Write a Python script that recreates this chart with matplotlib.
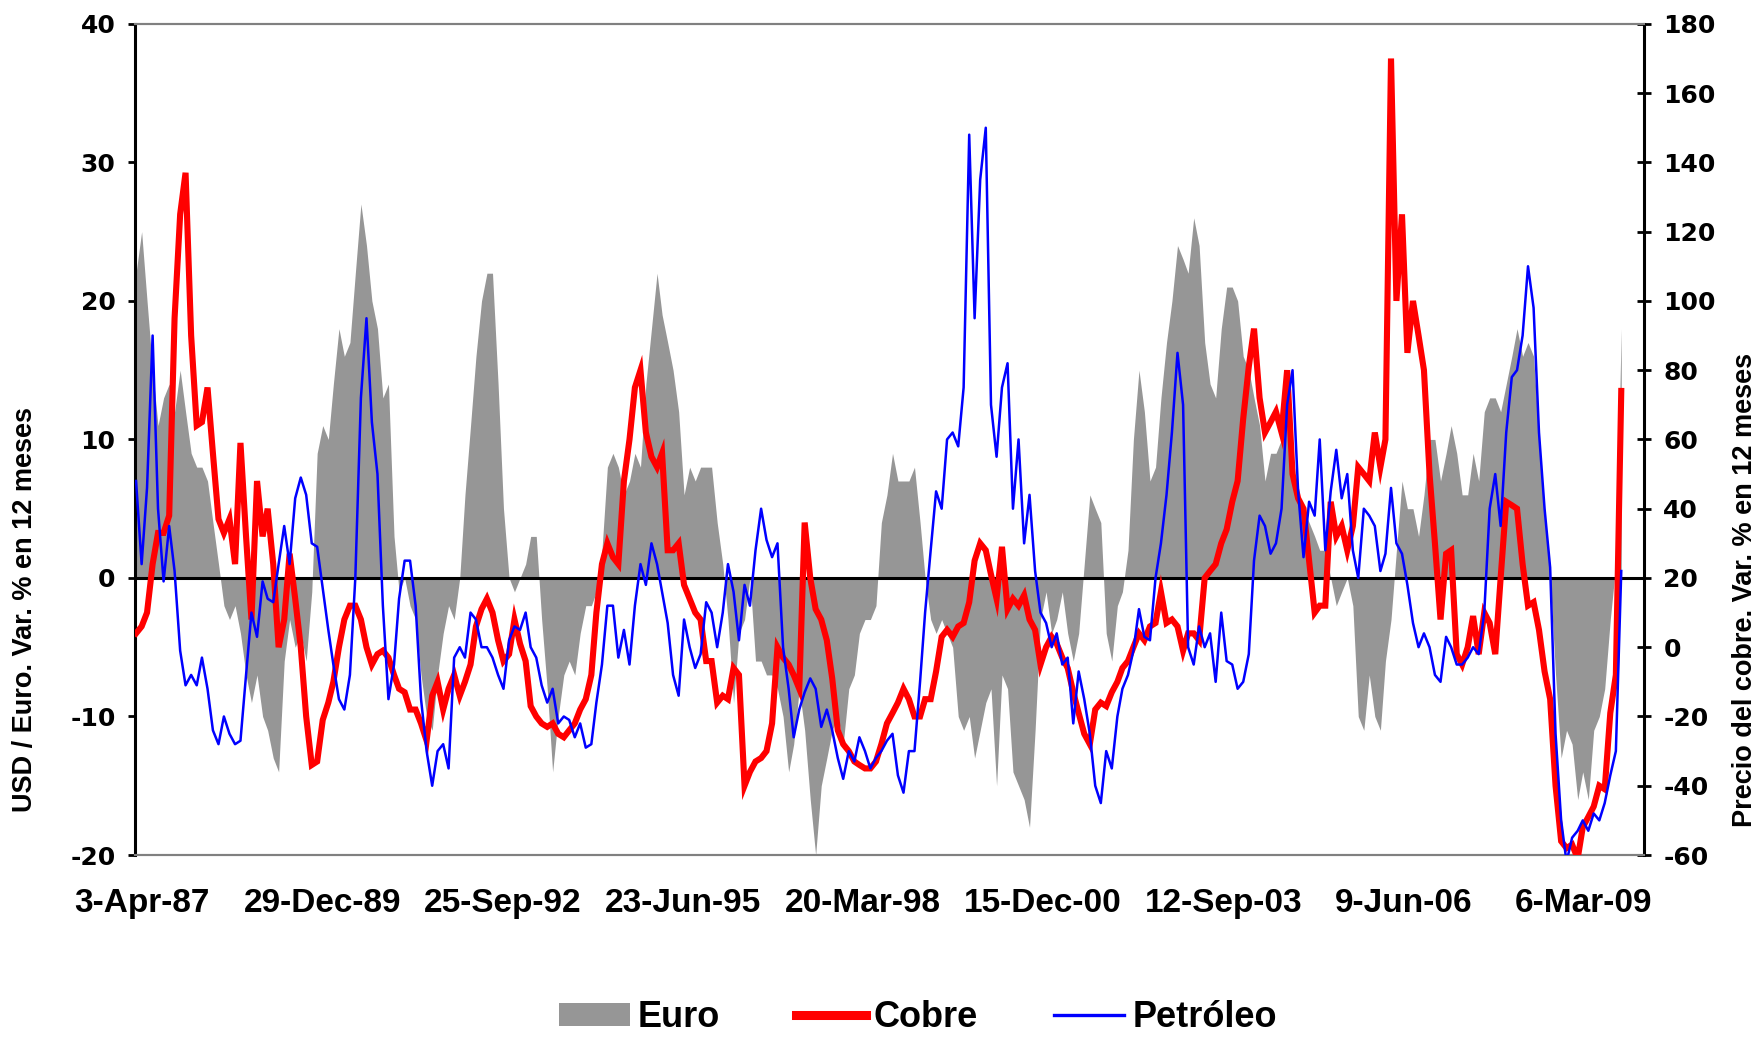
import matplotlib
matplotlib.use("Agg")
import matplotlib.pyplot as plt
from matplotlib.lines import Line2D
from matplotlib.patches import Patch
from matplotlib.font_manager import FontProperties
import pandas as pd


# monthly readings, first point = Mar-1987
START_MONTH = "1987-03-01"

# USD / Euro, 12-month % change (left axis)
EURO = [
    22, 25, 20, 15, 11, 13, 14, 12, 15, 12,
    9, 8, 8, 7, 4, 1, -2, -3, -2, -4,
    -7, -9, -7, -10, -11, -13, -14, -6, -3, -5,
    -4, -6, -1, 9, 11, 10, 14, 18, 16, 17,
    22, 27, 24, 20, 18, 13, 14, 3, -1, 0,
    -2, -3, -7, -10, -11, -7, -4, -2, -3, 0,
    6, 11, 16, 20, 22, 22, 14, 5, 0, -1,
    0, 1, 3, 3, -3, -8, -14, -10, -7, -6,
    -7, -4, -2, -2, -1, 2, 8, 9, 8, 6,
    7, 9, 8, 14, 18, 22, 19, 17, 15, 12,
    6, 8, 7, 8, 8, 8, 4, 1, -3, -9,
    -4, -3, 0, -6, -6, -7, -7, -8, -10, -14,
    -12, -8, -11, -16, -20, -15, -13, -11, -10, -12,
    -8, -7, -4, -3, -3, -2, 4, 6, 9, 7,
    7, 7, 8, 4, 0, -3, -4, -3, -4, -5,
    -10, -11, -10, -13, -11, -9, -8, -15, -7, -8,
    -14, -15, -16, -18, -11, -3, -1, -4, -3, -1,
    -4, -6, -4, 1, 6, 5, 4, -4, -6, -2,
    -1, 2, 10, 15, 12, 7, 8, 13, 17, 20,
    24, 23, 22, 26, 24, 17, 14, 13, 18, 21,
    21, 20, 16, 15, 13, 11, 7, 9, 9, 10,
    12, 9, 6, 5, 4, 3, 2, 2, 0, -2,
    -1, 0, -2, -10, -11, -7, -10, -11, -6, -3,
    2, 7, 5, 5, 3, 6, 10, 10, 7, 9,
    11, 9, 6, 6, 9, 7, 12, 13, 13, 12,
    14, 16, 18, 16, 17, 16, 10, 5, 0, -7,
    -13, -11, -12, -16, -14, -16, -11, -10, -8, -3,
    1, 18,
]

# copper price, 12-month % change (right axis)
COBRE = [
    4, 6, 10, 24, 33, 33, 38, 95, 125, 137,
    90, 64, 65, 75, 56, 37, 33, 37, 24, 59,
    32, 8, 48, 32, 40, 24, 0, 8, 27, 14,
    0, -20, -34, -33, -21, -16, -10, 0, 8, 12,
    12, 8, 0, -5, -2, -1, -3, -8, -12, -13,
    -18, -18, -22, -27, -14, -10, -18, -12, -8, -14,
    -10, -5, 6, 11, 14, 10, 2, -4, -2, 8,
    1, -4, -17, -20, -22, -23, -22, -25, -26, -24,
    -22, -18, -15, -8, 10, 24, 30, 26, 24, 48,
    60, 75, 80, 62, 55, 52, 56, 28, 28, 30,
    18, 14, 10, 8, -4, -4, -16, -14, -15, -6,
    -8, -40, -36, -33, -32, -30, -22, 0, -3, -5,
    -8, -12, 36, 20, 11, 8, 2, -9, -24, -28,
    -30, -33, -34, -35, -35, -33, -28, -22, -19, -16,
    -12, -15, -20, -20, -15, -15, -7, 3, 5, 3,
    6, 7, 13, 25, 30, 28, 21, 14, 29, 11,
    14, 12, 15, 8, 5, -5, 0, 3, 1, -3,
    -6, -13, -19, -25, -28, -18, -16, -17, -13, -10,
    -6, -4, 0, 4, 2, 6, 7, 16, 7, 8,
    6, -1, 4, 4, 2, 20, 22, 24, 30, 34,
    42, 48, 66, 81, 92, 72, 62, 65, 68, 62,
    80, 50, 43, 40, 25, 10, 12, 12, 42, 32,
    35, 28, 35, 52, 50, 48, 62, 52, 60, 170,
    100, 125, 85, 100, 90, 80, 50, 30, 8, 27,
    28, -2, -5, 0, 9, -2, 10, 7, -2, 20,
    42, 41, 40, 24, 12, 13, 5, -7, -15, -40,
    -56, -58, -57, -61, -52, -49, -46, -40, -41, -19,
    -8, 74,
]

# oil price, 12-month % change (right axis)
PETROLEO = [
    48, 24, 46, 90, 40, 19, 35, 22, -1, -11,
    -8, -11, -3, -12, -24, -28, -20, -25, -28, -27,
    -8, 10, 3, 19, 14, 13, 24, 35, 24, 43,
    49, 44, 30, 29, 17, 5, -5, -15, -18, -8,
    20, 72, 95, 65, 50, 12, -15, -5, 14, 25,
    25, 12, -15, -30, -40, -30, -28, -35, -3, 0,
    -3, 10, 8, 0, 0, -3, -8, -12, 2, 6,
    5, 10, 0, -3, -11, -16, -12, -22, -20, -21,
    -26, -22, -29, -28, -16, -5, 12, 12, -3, 5,
    -5, 12, 24, 18, 30, 24, 16, 7, -8, -14,
    8, 0, -6, -2, 13, 10, 0, 10, 24, 16,
    2, 18, 12, 28, 40, 31, 26, 30, 0, -12,
    -26, -18, -13, -9, -12, -23, -18, -24, -32, -38,
    -30, -33, -26, -30, -35, -32, -30, -27, -25, -37,
    -42, -30, -30, -10, 10, 28, 45, 40, 60, 62,
    58, 75, 148, 95, 135, 150, 70, 55, 75, 82,
    40, 60, 30, 44, 22, 10, 7, 0, 4, -5,
    -3, -22, -7, -15, -25, -40, -45, -30, -35, -20,
    -12, -8, -1, 11, 3, 2, 20, 30, 44, 62,
    85, 70, 0, -5, 6, 0, 4, -10, 10, -4,
    -5, -12, -10, -2, 25, 38, 35, 27, 30, 40,
    70, 80, 45, 26, 42, 38, 60, 28, 45, 57,
    43, 50, 28, 20, 40, 38, 35, 22, 27, 46,
    30, 27, 18, 7, 0, 4, 0, -8, -10, 3,
    0, -5, -5, -3, 0, -2, 10, 40, 50, 35,
    62, 78, 80, 90, 110, 98, 62, 40, 23, -25,
    -50, -62, -55, -53, -50, -53, -48, -50, -45, -37,
    -30, 22,
]

TICK_DATES = ["1987-04-03", "1989-12-29", "1992-09-25", "1995-06-23", "1998-03-20",
              "2000-12-15", "2003-09-12", "2006-06-09", "2009-03-06"]
TICK_LABELS = ["3-Apr-87", "29-Dec-89", "25-Sep-92", "23-Jun-95", "20-Mar-98",
               "15-Dec-00", "12-Sep-03", "9-Jun-06", "6-Mar-09"]
X_RANGE = ("1987-02-23", "2010-02-04")

GRAY = "#969696"
RED = "#ff0000"
BLUE = "#0000ff"


def months_for(values):
    return pd.date_range(START_MONTH, periods=len(values), freq="MS")


def main():
    plt.rcParams["axes.unicode_minus"] = False
    bold = FontProperties(family="Liberation Sans", weight="bold")

    fig = plt.figure(figsize=(17.62, 10.37), dpi=100)
    ax = fig.add_axes([0.0766, 0.1755, 0.8564, 0.8015])
    ax2 = ax.twinx()

    ax.fill_between(months_for(EURO), 0, EURO, color=GRAY, linewidth=0, zorder=1)
    ax.axhline(0, color="black", linewidth=2.2, zorder=2)
    ax2.plot(months_for(COBRE), COBRE, color=RED, linewidth=4.4, solid_joinstyle="miter", zorder=3)
    ax2.plot(months_for(PETROLEO), PETROLEO, color=BLUE, linewidth=1.8, zorder=4)

    ax.set_xlim(pd.Timestamp(X_RANGE[0]), pd.Timestamp(X_RANGE[1]))
    ax.set_ylim(-20, 40)
    ax.set_yticks(range(-20, 41, 10))
    ax2.set_ylim(-60, 180)
    ax2.set_yticks(range(-60, 181, 20))

    ax.set_xticks(pd.to_datetime(TICK_DATES))
    ax.set_xticklabels(TICK_LABELS, fontproperties=bold, fontsize=24)
    ax.tick_params(axis="x", length=0, pad=24)

    ax.tick_params(axis="y", direction="out", length=5, width=2, pad=9)
    ax2.tick_params(axis="y", direction="inout", length=10, width=2, pad=9)
    for lab in ax.get_yticklabels() + ax2.get_yticklabels():
        lab.set_fontfamily("DejaVu Sans")
        lab.set_fontweight("bold")
        lab.set_fontsize(18)

    for a in (ax, ax2):
        for side in ("top", "bottom"):
            a.spines[side].set_color("#808080")
            a.spines[side].set_linewidth(1.5)
    ax.spines["right"].set_visible(False)
    ax.spines["left"].set_linewidth(2.2)
    ax2.spines["left"].set_visible(False)
    ax2.spines["right"].set_linewidth(2.2)

    fig.text(0.0142, 0.412, "USD / Euro. Var. % en 12 meses", rotation=90,
             ha="center", va="center", fontproperties=bold, fontsize=19.5)
    fig.text(0.9905, 0.431, "Precio del cobre. Var. % en 12 meses", rotation=90,
             ha="center", va="center", fontproperties=bold, fontsize=19.5)

    handles = [
        Patch(facecolor=GRAY, edgecolor="none"),
        Line2D([], [], color=RED, linewidth=6.5),
        Line2D([], [], color=BLUE, linewidth=2.4),
    ]
    fig.legend(handles, ["Euro", "Cobre", "Petróleo"], loc="center",
               bbox_to_anchor=(0.521, 0.019), ncol=3, frameon=False,
               prop=FontProperties(family="Liberation Sans", weight="bold", size=26),
               handlelength=1.95, handletextpad=0.22, columnspacing=2.1, handleheight=0.6)

    fig.savefig("out.png", dpi=100)
    plt.close(fig)


if __name__ == "__main__":
    main()
